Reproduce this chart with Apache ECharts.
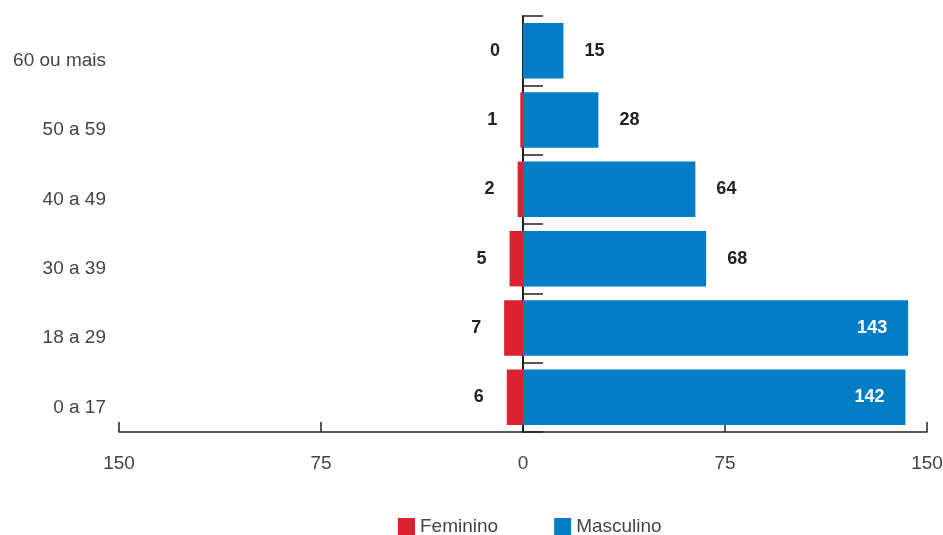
<!DOCTYPE html>
<html>
<head>
<meta charset="utf-8">
<script src="https://cdn.jsdelivr.net/npm/echarts@6/dist/echarts.min.js"></script>
<style>
    html, body { margin: 0; padding: 0; background: #fff; }
    #chart_01 { width: 943px; height: 535px; }
</style>
</head>
<body>
<div id="chart_01"></div>
<script>
var categories = ['0 a 17', '18 a 29', '30 a 39', '40 a 49', '50 a 59', '60 ou mais'];
var feminino = [6, 7, 5, 2, 1, 0];
var masculino = [142, 143, 68, 64, 28, 15];
var xTicks = [-150, -75, 0, 75, 150];

var font = '"Liberation Sans", Arial, sans-serif';

var myChart = echarts.init(document.getElementById('chart_01'));

var option = {
    textStyle: { fontFamily: font },
    grid: {
        left: 119,
        right: 16,
        top: 16,
        bottom: 103,
        outerBoundsMode: 'none'
    },
    legend: {
        data: ['Feminino', 'Masculino'],
        left: 393,
        bottom: -6,
        icon: 'rect',
        itemWidth: 17,
        itemHeight: 17,
        itemGap: 56,
        textStyle: { fontSize: 19, color: '#444', fontFamily: font }
    },
    xAxis: {
        type: 'value',
        min: xTicks[0],
        max: xTicks[xTicks.length - 1],
        interval: 75,
        axisLine: { show: true, lineStyle: { color: '#222', width: 1.5 } },
        axisTick: { show: true, inside: true, length: 10, lineStyle: { color: '#222', width: 1.5 } },
        splitLine: { show: false },
        axisLabel: {
            margin: 22,
            fontSize: 19,
            color: '#444',
            formatter: function (v) { return Math.abs(v); }
        }
    },
    yAxis: [
        {
            type: 'category',
            data: categories,
            position: 'left',
            axisLine: { show: false, onZero: false },
            axisTick: { show: false },
            axisLabel: { margin: 13, fontSize: 19, color: '#444', verticalAlign: 'top', lineHeight: 20 }
        },
        {
            type: 'category',
            data: categories,
            position: 'left',
            axisLine: { show: true, onZero: true, lineStyle: { color: '#222', width: 2 } },
            axisTick: { show: true, inside: true, length: 20, lineStyle: { color: '#222', width: 1.5 } },
            axisLabel: { show: false }
        }
    ],
    series: [
        {
            name: 'Feminino',
            type: 'bar',
            barCategoryGap: '20%',
            barGap: '-100%',
            data: feminino.map(function (v) { return -v; }),
            itemStyle: { color: '#dc2131' },
            label: {
                show: true,
                position: 'left',
                distance: 23,
                fontSize: 18,
                fontWeight: 'bold',
                color: '#222',
                formatter: function (p) { return Math.abs(p.value); }
            },
            z: 1
        },
        {
            name: 'Masculino',
            type: 'bar',
            barCategoryGap: '20%',
            barGap: '-100%',
            data: masculino.map(function (v) {
                if (v > 100) {
                    return { value: v, label: { position: 'insideRight', color: '#fff' } };
                }
                return v;
            }),
            itemStyle: { color: '#007dc4' },
            label: {
                show: true,
                position: 'right',
                distance: 21,
                fontSize: 18,
                fontWeight: 'bold',
                color: '#222'
            },
            z: 1
        }
    ]
};

myChart.setOption(option);
window.addEventListener('resize', function () {
    myChart.resize();
});
</script>
</body>
</html>
